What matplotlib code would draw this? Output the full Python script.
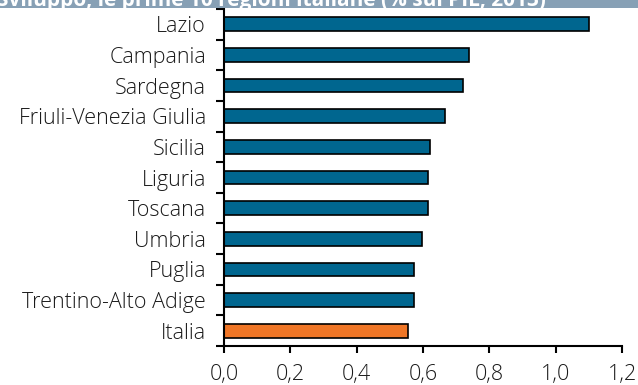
import matplotlib
matplotlib.use("Agg")
import matplotlib.pyplot as plt
from matplotlib.patches import Rectangle

plt.rcParams['font.family'] = ['Open Sans', 'DejaVu Sans']

# R&S spending, top 10 Italian regions (% of GDP, 2013)
regions = ["Lazio", "Campania", "Sardegna", "Friuli-Venezia Giulia", "Sicilia",
           "Liguria", "Toscana", "Umbria", "Puglia", "Trentino-Alto Adige", "Italia"]
values = [1.10, 0.74, 0.72, 0.665, 0.62, 0.615, 0.615, 0.597, 0.573, 0.573, 0.554]
title = "Sviluppo, le prime 10 regioni italiane (% sul PIL, 2013)"

blue = "#00668f"
orange = "#f07626"
colors = [orange if r == "Italia" else blue for r in regions]

fig = plt.figure(figsize=(6.38, 3.85), dpi=100)
ax = fig.add_axes([0.351, 0.1013, 0.624, 0.8753])

pos = list(range(len(regions)))
ax.barh(pos, values, height=0.45, color=colors, edgecolor="black", linewidth=1.2)
ax.set_ylim(len(regions) - 0.5, -0.5)
ax.set_xlim(0, 1.2)

# category labels between boundary ticks
ax.set_yticks([p - 0.5 for p in range(len(regions) + 1)])
ax.set_yticklabels([])
ax.set_yticks(pos, minor=True)
ax.set_yticklabels(regions, minor=True, fontsize=15.5, fontweight="light", color="#1a1a1a")
ax.tick_params(axis="y", which="minor", length=0, pad=13)
ax.tick_params(axis="y", which="major", length=6, width=1.5, direction="out")

ax.set_xticks([0, 0.2, 0.4, 0.6, 0.8, 1.0, 1.2])
ax.set_xticklabels(["0,0", "0,2", "0,4", "0,6", "0,8", "1,0", "1,2"],
                   fontsize=15.5, fontweight="light", color="#1a1a1a")
ax.tick_params(axis="x", length=5, width=1.5, direction="out", pad=8)

for s in ["top", "right"]:
    ax.spines[s].set_visible(False)
for s in ["left", "bottom"]:
    ax.spines[s].set_linewidth(1.5)

# header band, cut at the top edge
fig.patches.append(Rectangle((0, 1 - 8 / 385), 1, 8 / 385, transform=fig.transFigure,
                             facecolor="#87a0b5", edgecolor="none", zorder=0))
fig.text(-0.004, 1 - 6 / 385, title, fontsize=15, fontweight="bold", color="white",
         va="baseline", ha="left")

fig.savefig("out.png", dpi=100)
